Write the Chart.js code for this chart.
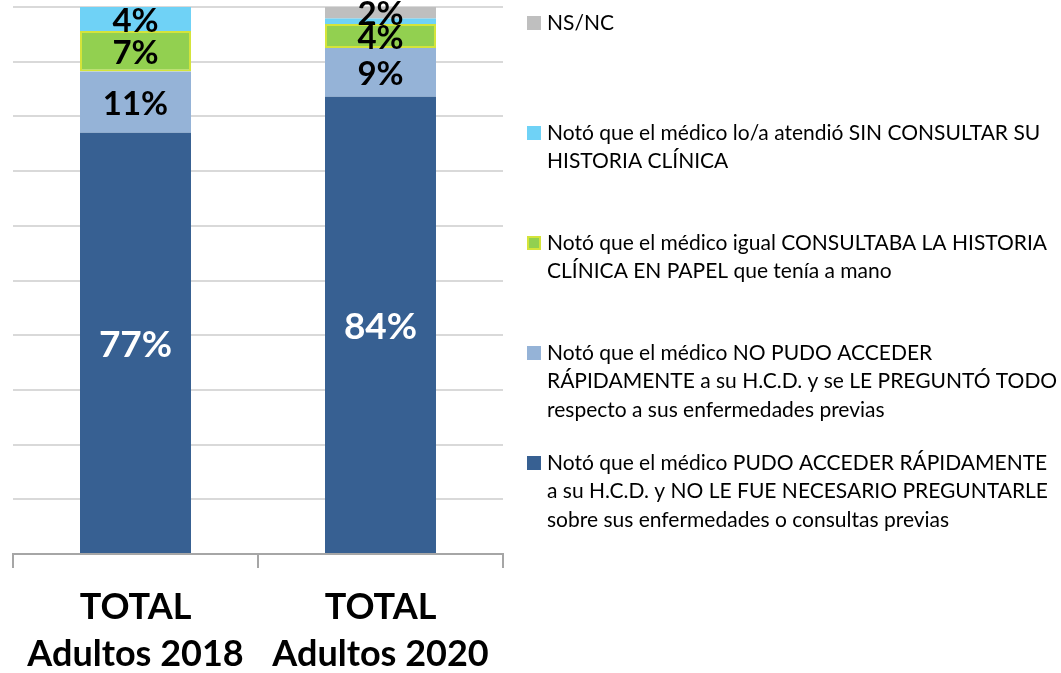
<!DOCTYPE html>
<html>
<head>
<meta charset="utf-8">
<script src="https://cdn.jsdelivr.net/npm/chart.js@4"></script>
<style>
  body { margin: 0; background: #fff; }
  canvas { display: block; }
</style>
</head>
<body>
<canvas id="stackChart" width="1061" height="673"></canvas>
<script>
// categories (x axis, two lines each)
const categories = [['TOTAL', 'Adultos 2018'], ['TOTAL', 'Adultos 2020']];

// series, bottom to top of the stack (percent)
const pudoAcceder = [77.0, 83.6];
const noPudoAcceder = [11.2, 8.9];
const papel = [7.4, 4.4];
const sinConsultar = [4.4, 1.0];
const nsnc = [0, 2.1];

// legend texts, already broken into lines like the original
const legendPudo = ['Notó que el médico PUDO ACCEDER RÁPIDAMENTE', 'a su H.C.D. y NO LE FUE NECESARIO PREGUNTARLE', 'sobre sus enfermedades o consultas previas'];
const legendNoPudo = ['Notó que el médico NO PUDO ACCEDER', 'RÁPIDAMENTE a su H.C.D. y se LE PREGUNTÓ TODO', 'respecto a sus enfermedades previas'];
const legendPapel = ['Notó que el médico igual CONSULTABA LA HISTORIA', 'CLÍNICA EN PAPEL que tenía a mano'];
const legendSin = ['Notó que el médico lo/a atendió SIN CONSULTAR SU', 'HISTORIA CLÍNICA'];
const legendNs = ['NS/NC'];

// bar value labels drawn in the middle of each segment
const barLabels = {
  id: 'barLabels',
  afterDatasetsDraw(chart) {
    const ctx = chart.ctx;
    ctx.save();
    ctx.textAlign = 'center';
    ctx.textBaseline = 'middle';
    chart.data.datasets.forEach((ds, i) => {
      const meta = chart.getDatasetMeta(i);
      meta.data.forEach((bar, j) => {
        const v = ds.data[j];
        if (v < 1.5) return;
        ctx.fillStyle = ds.labelColor;
        ctx.font = ds.labelFont;
        ctx.fillText(Math.round(v) + '%', bar.x, (bar.y + bar.base) / 2 + 2);
      });
    });
    ctx.restore();
  }
};

// legend on the right, top item = top of the stack
const sideLegend = {
  id: 'sideLegend',
  afterDraw(chart) {
    const ctx = chart.ctx;
    const items = chart.data.datasets.slice().reverse();
    ctx.save();
    ctx.font = '21px Lato';
    ctx.textBaseline = 'middle';
    ctx.textAlign = 'left';
    items.forEach((ds, i) => {
      const y0 = 23 + i * 110;
      ctx.fillStyle = ds.backgroundColor;
      ctx.fillRect(527, y0 - 7, 14, 14);
      if (ds.borderWidth) {
        ctx.strokeStyle = ds.borderColor;
        ctx.lineWidth = 2;
        ctx.strokeRect(528, y0 - 6, 12, 12);
      }
      ctx.fillStyle = '#000';
      ds.legendLines.forEach((line, k) => {
        ctx.fillText(line, 547, y0 + k * 28.7);
      });
    });
    ctx.restore();
  }
};

new Chart(document.getElementById('stackChart'), {
  type: 'bar',
  data: {
    labels: categories,
    datasets: [
      { label: 'pudo', data: pudoAcceder, backgroundColor: '#376092', labelColor: '#fff', labelFont: 'bold 37px Lato', legendLines: legendPudo, borderWidth: 0 },
      { label: 'noPudo', data: noPudoAcceder, backgroundColor: '#95b3d7', labelColor: '#000', labelFont: 'bold 33px Lato', legendLines: legendNoPudo, borderWidth: 0 },
      { label: 'papel', data: papel, backgroundColor: '#92d050', borderColor: '#d4e43a', borderWidth: 2, borderSkipped: false, labelColor: '#000', labelFont: 'bold 33px Lato', legendLines: legendPapel },
      { label: 'sin', data: sinConsultar, backgroundColor: '#6fd2f6', labelColor: '#000', labelFont: 'bold 33px Lato', legendLines: legendSin, borderWidth: 0 },
      { label: 'nsnc', data: nsnc, backgroundColor: '#bfbfbf', labelColor: '#000', labelFont: 'bold 33px Lato', legendLines: legendNs, borderWidth: 0 }
    ]
  },
  options: {
    responsive: false,
    animation: false,
    layout: { padding: { left: 13, top: 7, right: 558, bottom: 0 } },
    datasets: { bar: { barPercentage: 1, categoryPercentage: 0.453 } },
    plugins: { legend: { display: false }, tooltip: { enabled: false } },
    scales: {
      x: {
        stacked: true,
        afterFit(scale) { scale.height = 119; },
        grid: { offset: true, drawOnChartArea: false, color: '#a6a6a6', tickLength: 14, lineWidth: 2 },
        border: { color: '#a6a6a6', width: 2 },
        ticks: { color: '#000', font: { family: 'Lato', weight: 'bold', size: 36, lineHeight: 1.3 }, padding: 16 }
      },
      y: {
        stacked: true,
        min: 0,
        max: 100,
        ticks: { display: false, stepSize: 10 },
        grid: { color: '#d9d9d9', lineWidth: 2, drawTicks: false },
        border: { display: false }
      }
    }
  },
  plugins: [barLabels, sideLegend]
});
</script>
</body>
</html>
